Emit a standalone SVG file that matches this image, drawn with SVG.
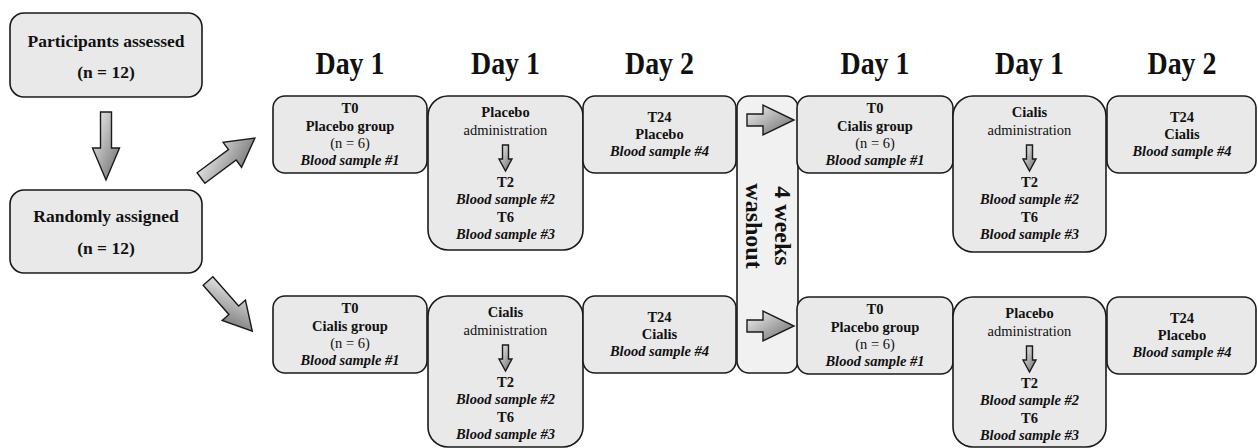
<svg xmlns="http://www.w3.org/2000/svg" width="1258" height="448" viewBox="0 0 1258 448">
<defs>
<linearGradient id="g" x1="0" y1="0" x2="1" y2="1">
<stop offset="0" stop-color="#f4f4f4"/>
<stop offset="1" stop-color="#686868"/>
</linearGradient>
<path id="small" d="M502.5,145 H508.5 V159 H512 L505.5,171 L499,159 H502.5 Z"/>
<path id="diag" d="M0,-6.5 H39 V-15.5 L67,0 L39,15.5 V6.5 H0 Z"/>
<path id="wa" d="M747,114 H763 V105 L794,120 L763,135 V126 H747 Z"/>
</defs>
<style>
.box{fill:#e9e9e9;stroke:#1a1a1a;stroke-width:1.6}
.wbox{fill:#f1f1f1;stroke:#1a1a1a;stroke-width:1.6}
.arr{fill:url(#g);stroke:#1a1a1a;stroke-width:1.4;stroke-linejoin:miter}
text{font-family:"Liberation Serif","Times New Roman",serif;fill:#111;text-anchor:middle}
.t{font-size:14.5px}
.b{font-weight:bold}
.bi{font-weight:bold;font-style:italic}
.big{font-size:17.5px;font-weight:bold}
.day{font-size:31px;font-weight:bold}
.wash{font-size:24px;font-weight:bold}
</style>
<rect width="1258" height="448" fill="#ffffff"/>

<g id="days">
<text class="day" x="350" y="74" textLength="69" lengthAdjust="spacingAndGlyphs">Day 1</text>
<text class="day" x="505.5" y="74" textLength="69" lengthAdjust="spacingAndGlyphs">Day 1</text>
<text class="day" x="659.5" y="74" textLength="69" lengthAdjust="spacingAndGlyphs">Day 2</text>
<text class="day" x="875" y="74" textLength="69" lengthAdjust="spacingAndGlyphs">Day 1</text>
<text class="day" x="1029.5" y="74" textLength="69" lengthAdjust="spacingAndGlyphs">Day 1</text>
<text class="day" x="1182" y="74" textLength="69" lengthAdjust="spacingAndGlyphs">Day 2</text>
</g>

<g id="participants">
<rect class="box" x="10" y="13" width="192" height="84" rx="14"/>
<text class="big" x="106" y="47">Participants assessed</text>
<text class="big" x="106" y="78">(n = 12)</text>
</g>

<g id="randomly">
<rect class="box" x="10" y="190" width="192" height="83" rx="14"/>
<text class="big" x="106" y="222">Randomly assigned</text>
<text class="big" x="106" y="254">(n = 12)</text>
</g>

<g id="connectors">
<path class="arr" d="M100.5,112 H111.5 V148 H119.5 L106,180 L92.5,148 H100.5 Z"/>
<use href="#diag" class="arr" transform="translate(201,178) rotate(-36.5)"/>
<use href="#diag" class="arr" transform="translate(208,281) rotate(48.6)"/>
</g>

<!-- top row -->
<g id="top-t0">
<rect class="box" x="273" y="96" width="154" height="77" rx="12"/>
<text class="t b" x="350" y="113">T0</text>
<text class="t b" x="350" y="131">Placebo group</text>
<text class="t" x="350" y="148">(n = 6)</text>
<text class="t bi" x="350" y="165">Blood sample #1</text>
</g>
<g id="top-admin">
<rect class="box" x="428" y="96" width="155" height="154" rx="20"/>
<text class="t b" x="505.5" y="117">Placebo</text>
<text class="t" x="505.5" y="135">administration</text>
<use href="#small" class="arr"/>
<text class="t b" x="505.5" y="187">T2</text>
<text class="t bi" x="505.5" y="204">Blood sample #2</text>
<text class="t b" x="505.5" y="222">T6</text>
<text class="t bi" x="505.5" y="239">Blood sample #3</text>
</g>
<g id="top-t24">
<rect class="box" x="583" y="96" width="153" height="77" rx="12"/>
<text class="t b" x="659.5" y="122">T24</text>
<text class="t b" x="659.5" y="139">Placebo</text>
<text class="t bi" x="659.5" y="156">Blood sample #4</text>
</g>

<g id="washout">
<rect class="wbox" x="737" y="96" width="61" height="277" rx="12"/>
<use href="#wa" class="arr"/>
<use href="#wa" class="arr" transform="translate(0,206)"/>
<text class="wash" transform="translate(775,226) rotate(90)">4 weeks</text>
<text class="wash" transform="translate(746,226) rotate(90)">washout</text>
</g>

<g id="top-t0b">
<rect class="box" x="797" y="96" width="156" height="77" rx="12"/>
<text class="t b" x="875" y="113">T0</text>
<text class="t b" x="875" y="131">Cialis group</text>
<text class="t" x="875" y="148">(n = 6)</text>
<text class="t bi" x="875" y="165">Blood sample #1</text>
</g>
<g id="top-adminb">
<rect class="box" x="953" y="96" width="153" height="156" rx="20"/>
<text class="t b" x="1029.5" y="117">Cialis</text>
<text class="t" x="1029.5" y="135">administration</text>
<use href="#small" class="arr" transform="translate(524,0)"/>
<text class="t b" x="1029.5" y="187">T2</text>
<text class="t bi" x="1029.5" y="204">Blood sample #2</text>
<text class="t b" x="1029.5" y="222">T6</text>
<text class="t bi" x="1029.5" y="239">Blood sample #3</text>
</g>
<g id="top-t24b">
<rect class="box" x="1107" y="96" width="149" height="77" rx="12"/>
<text class="t b" x="1182" y="122">T24</text>
<text class="t b" x="1182" y="139">Cialis</text>
<text class="t bi" x="1182" y="156">Blood sample #4</text>
</g>

<!-- bottom row -->
<g id="bot-t0">
<rect class="box" x="273" y="296" width="154" height="77" rx="12"/>
<text class="t b" x="350" y="313">T0</text>
<text class="t b" x="350" y="331">Cialis group</text>
<text class="t" x="350" y="348">(n = 6)</text>
<text class="t bi" x="350" y="365">Blood sample #1</text>
</g>
<g id="bot-admin">
<rect class="box" x="428" y="296" width="155" height="151" rx="20"/>
<text class="t b" x="505.5" y="317">Cialis</text>
<text class="t" x="505.5" y="335">administration</text>
<use href="#small" class="arr" transform="translate(0,200)"/>
<text class="t b" x="505.5" y="387">T2</text>
<text class="t bi" x="505.5" y="404">Blood sample #2</text>
<text class="t b" x="505.5" y="422">T6</text>
<text class="t bi" x="505.5" y="439">Blood sample #3</text>
</g>
<g id="bot-t24">
<rect class="box" x="583" y="296" width="153" height="77" rx="12"/>
<text class="t b" x="659.5" y="322">T24</text>
<text class="t b" x="659.5" y="339">Cialis</text>
<text class="t bi" x="659.5" y="356">Blood sample #4</text>
</g>
<g id="bot-t0b">
<rect class="box" x="797" y="297" width="156" height="77" rx="12"/>
<text class="t b" x="875" y="314">T0</text>
<text class="t b" x="875" y="332">Placebo group</text>
<text class="t" x="875" y="349">(n = 6)</text>
<text class="t bi" x="875" y="366">Blood sample #1</text>
</g>
<g id="bot-adminb">
<rect class="box" x="953" y="297" width="153" height="150" rx="20"/>
<text class="t b" x="1029.5" y="318">Placebo</text>
<text class="t" x="1029.5" y="336">administration</text>
<use href="#small" class="arr" transform="translate(524,201)"/>
<text class="t b" x="1029.5" y="388">T2</text>
<text class="t bi" x="1029.5" y="405">Blood sample #2</text>
<text class="t b" x="1029.5" y="423">T6</text>
<text class="t bi" x="1029.5" y="440">Blood sample #3</text>
</g>
<g id="bot-t24b">
<rect class="box" x="1107" y="297" width="149" height="77" rx="12"/>
<text class="t b" x="1182" y="323">T24</text>
<text class="t b" x="1182" y="340">Placebo</text>
<text class="t bi" x="1182" y="357">Blood sample #4</text>
</g>
</svg>
